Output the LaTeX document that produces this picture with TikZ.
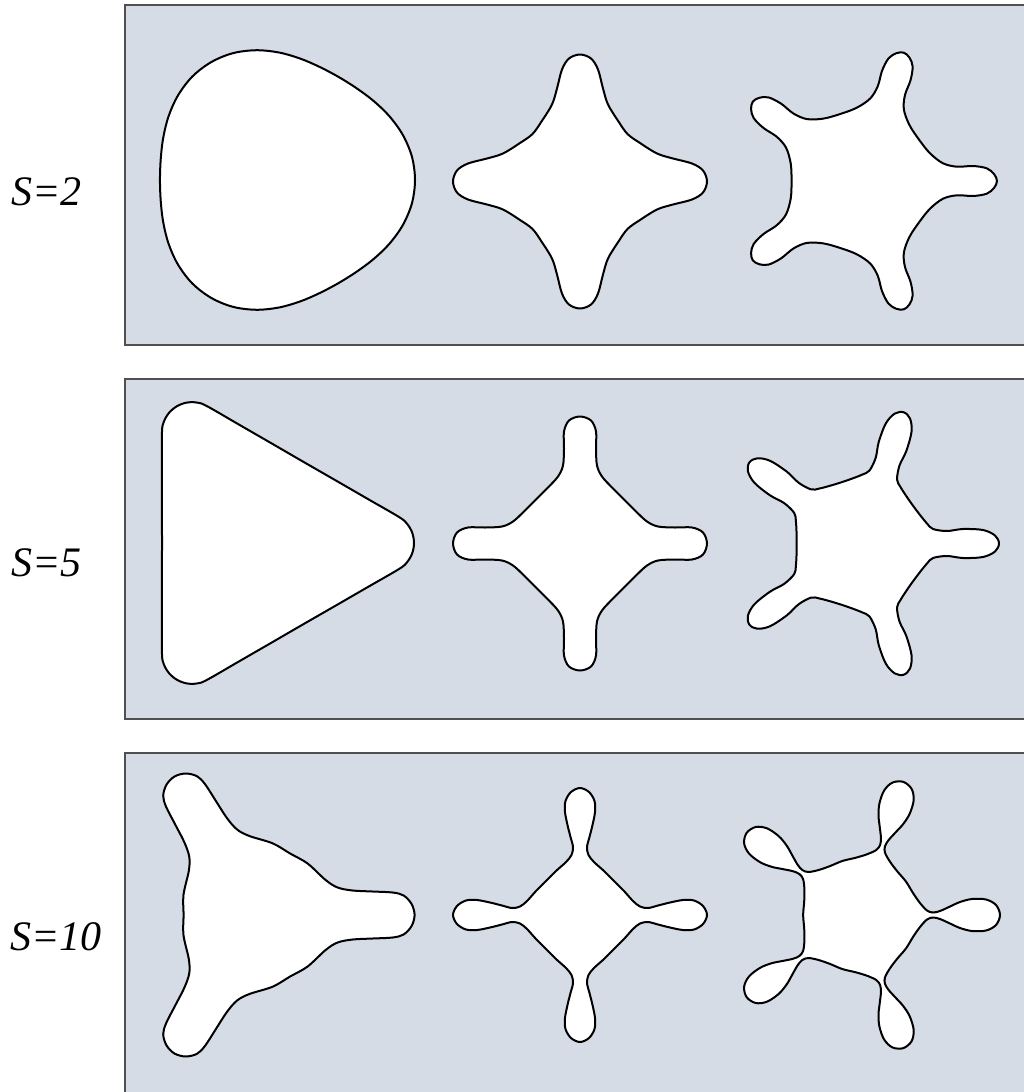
\documentclass[tikz,border=0pt]{standalone}
\usepackage{fontspec}
\setmainfont{Liberation Serif}
\definecolor{panelfill}{RGB}{213,220,229}
\definecolor{panelline}{RGB}{80,80,80}
\tikzset{
  panel/.style={fill=panelfill, draw=panelline, line width=1.4pt},
  blob/.style={fill=white, draw=black, line width=2pt, line join=round},
  lbl/.style={anchor=base west, inner sep=0pt, font=\fontsize{42}{42}\selectfont\itshape}
}
\newcommand\blobshape[5]{%
  \gdef\blobpts{}%
  \foreach \kk in {1,...,#3}{%
    \pgfmathsetmacro\ang{#4+(\kk-1)*360/#3}%
    \gdef\blobpos{}%
    \foreach \pu/\pv [count=\ii] in {#5}{%
      \pgfmathsetmacro\xa{#1+\pu*cos(\ang)+\pv*sin(\ang)}%
      \pgfmathsetmacro\ya{#2-(\pu*sin(\ang)-\pv*cos(\ang))}%
      \xdef\blobpts{\blobpts(\xa,\ya)}%
      \ifnum\ii>1 \ifdim\pv pt>0pt
        \pgfmathsetmacro\xb{#1+\pu*cos(\ang)-\pv*sin(\ang)}%
        \pgfmathsetmacro\yb{#2-(\pu*sin(\ang)+\pv*cos(\ang))}%
        \xdef\blobpos{(\xb,\yb)\blobpos}%
      \fi\fi
    }%
    \xdef\blobpts{\blobpts\blobpos}%
  }%
  \edef\blobcmd{\noexpand\filldraw[blob] plot[smooth cycle, tension=0.55] coordinates {\blobpts};}%
  \blobcmd
}
\begin{document}
\begin{tikzpicture}[x=1pt,y=-1pt]
\clip (0,0) rectangle (1024,1092);
\fill[white] (0,0) rectangle (1024,1092);
% panels
\path[panel] (125,5) rectangle (1040,345);
\path[panel] (125,379) rectangle (1040,719);
\path[panel] (125,753) rectangle (1040,1093);
% labels
\node[lbl] (l1) at (11,205) {S=2};
\node[lbl] (l2) at (11,576) {S=5};
\node[lbl] (l3) at (10,950) {S=10};
% row 1 (S=2)
\blobshape{279}{180}{3}{0}{59.5/103.1, 77.2/92, 94.4/79.2, 110.4/63.75, 123.8/45.1, 132.9/23.4, 136/0}
\blobshape{580}{181.5}{4}{0}{47.5/47.5, 60/38.5, 77/28, 93/23, 112/18, 123/11, 127/0}
\blobshape{862}{181}{5}{0}{57/41.4, 68/27.7, 81/17.7, 95/14.3, 111/15, 124.7/12.7, 132/7, 135/0}
% row 2 (S=5)
\blobshape{256}{543}{3}{0}{47/81.4, 79/63, 111/44.5, 143/26, 151/19.3, 156.2/10.3, 158/0}
\blobshape{580}{543.5}{4}{0}{44/44, 56/32, 67/22, 78/17, 95/16, 112/16, 123/11, 127/0}
\blobshape{861}{543.5}{5}{0}{52/37.8, 59/28.5, 66/20, 72/14.5, 86/12.5, 102/14.5, 122/13.5, 134/8, 138/0}
% row 3 (S=10)
\blobshape{254.6}{915}{3}{0}{35.5/61.5, 53/51.5, 71/35, 83/27.5, 98/24.5, 118/23.5, 138/22.5, 149/19.5, 157/11, 160/0}
\blobshape{580}{915}{4}{0}{34/34, 44/24, 53/14, 60/8.5, 68/7, 78/9.5, 90/12.5, 103/15, 114/14.5, 123/9, 127/0}
\blobshape{860}{915}{5}{0}{46/33.4, 53/22, 60/12, 67/4.5, 73/2.5, 80/4, 90/8.5, 100/13, 112/16, 126/15.5, 136/10, 140/0}
\end{tikzpicture}
\end{document}
